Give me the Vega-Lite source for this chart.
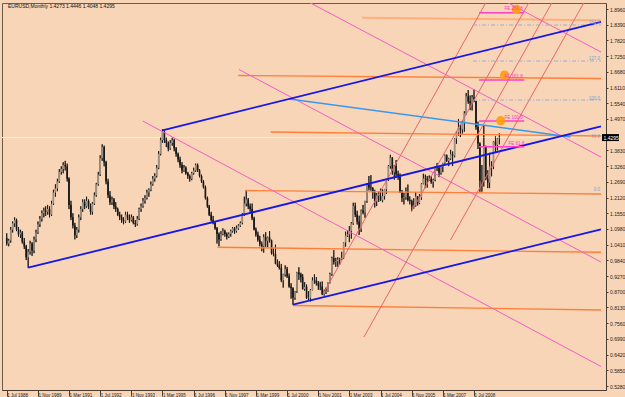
{
"$schema": "https://vega.github.io/schema/vega-lite/v6.json",
"width": 604, "height": 387, "autosize": "none",
"padding": {"left": 2, "top": 3, "right": 19, "bottom": 7},
"background": "#F8D5B6",
"config": {"view": {"stroke": "#6E5A48", "strokeWidth": 1, "fill": "#F8D5B6"}, "font": "Liberation Sans", "axis": {"title": null, "grid": false, "labelOverlap": false}},
"datasets": {
"bars": [
{"d":"1988-07-01","o":1.065,"h":1.082,"l":1.038,"c":1.045},
{"d":"1988-08-01","o":1.045,"h":1.062,"l":1.035,"c":1.056},
{"d":"1988-09-01","o":1.056,"h":1.105,"l":1.048,"c":1.095},
{"d":"1988-10-01","o":1.095,"h":1.125,"l":1.085,"c":1.118},
{"d":"1988-11-01","o":1.118,"h":1.140,"l":1.105,"c":1.130},
{"d":"1988-12-01","o":1.130,"h":1.135,"l":1.090,"c":1.096},
{"d":"1989-01-01","o":1.096,"h":1.105,"l":1.070,"c":1.078},
{"d":"1989-02-01","o":1.078,"h":1.095,"l":1.065,"c":1.085},
{"d":"1989-03-01","o":1.085,"h":1.090,"l":1.045,"c":1.052},
{"d":"1989-04-01","o":1.052,"h":1.065,"l":1.025,"c":1.035},
{"d":"1989-05-01","o":1.035,"h":1.040,"l":0.985,"c":0.995},
{"d":"1989-06-01","o":0.995,"h":1.025,"l":0.957,"c":1.015},
{"d":"1989-07-01","o":1.015,"h":1.055,"l":1.005,"c":1.045},
{"d":"1989-08-01","o":1.045,"h":1.050,"l":1.000,"c":1.020},
{"d":"1989-09-01","o":1.020,"h":1.070,"l":1.010,"c":1.060},
{"d":"1989-10-01","o":1.060,"h":1.095,"l":1.050,"c":1.085},
{"d":"1989-11-01","o":1.085,"h":1.125,"l":1.080,"c":1.115},
{"d":"1989-12-01","o":1.115,"h":1.145,"l":1.105,"c":1.135},
{"d":"1990-01-01","o":1.135,"h":1.165,"l":1.125,"c":1.155},
{"d":"1990-02-01","o":1.155,"h":1.175,"l":1.140,"c":1.165},
{"d":"1990-03-01","o":1.165,"h":1.180,"l":1.145,"c":1.160},
{"d":"1990-04-01","o":1.160,"h":1.185,"l":1.150,"c":1.170},
{"d":"1990-05-01","o":1.170,"h":1.180,"l":1.140,"c":1.150},
{"d":"1990-06-01","o":1.150,"h":1.200,"l":1.145,"c":1.190},
{"d":"1990-07-01","o":1.190,"h":1.240,"l":1.185,"c":1.230},
{"d":"1990-08-01","o":1.230,"h":1.260,"l":1.215,"c":1.245},
{"d":"1990-09-01","o":1.245,"h":1.280,"l":1.235,"c":1.270},
{"d":"1990-10-01","o":1.270,"h":1.315,"l":1.265,"c":1.305},
{"d":"1990-11-01","o":1.305,"h":1.325,"l":1.295,"c":1.315},
{"d":"1990-12-01","o":1.315,"h":1.340,"l":1.300,"c":1.330},
{"d":"1991-01-01","o":1.330,"h":1.345,"l":1.310,"c":1.325},
{"d":"1991-02-01","o":1.325,"h":1.335,"l":1.270,"c":1.280},
{"d":"1991-03-01","o":1.280,"h":1.285,"l":1.170,"c":1.185},
{"d":"1991-04-01","o":1.185,"h":1.200,"l":1.130,"c":1.140},
{"d":"1991-05-01","o":1.140,"h":1.155,"l":1.100,"c":1.110},
{"d":"1991-06-01","o":1.110,"h":1.120,"l":1.060,"c":1.075},
{"d":"1991-07-01","o":1.075,"h":1.105,"l":1.065,"c":1.095},
{"d":"1991-08-01","o":1.095,"h":1.150,"l":1.085,"c":1.140},
{"d":"1991-09-01","o":1.140,"h":1.180,"l":1.130,"c":1.170},
{"d":"1991-10-01","o":1.170,"h":1.205,"l":1.160,"c":1.195},
{"d":"1991-11-01","o":1.195,"h":1.205,"l":1.170,"c":1.180},
{"d":"1991-12-01","o":1.180,"h":1.215,"l":1.175,"c":1.200},
{"d":"1992-01-01","o":1.200,"h":1.205,"l":1.170,"c":1.180},
{"d":"1992-02-01","o":1.180,"h":1.190,"l":1.150,"c":1.160},
{"d":"1992-03-01","o":1.160,"h":1.195,"l":1.150,"c":1.190},
{"d":"1992-04-01","o":1.190,"h":1.230,"l":1.185,"c":1.220},
{"d":"1992-05-01","o":1.220,"h":1.265,"l":1.215,"c":1.260},
{"d":"1992-06-01","o":1.260,"h":1.305,"l":1.255,"c":1.295},
{"d":"1992-07-01","o":1.295,"h":1.365,"l":1.290,"c":1.355},
{"d":"1992-08-01","o":1.355,"h":1.405,"l":1.345,"c":1.395},
{"d":"1992-09-01","o":1.395,"h":1.400,"l":1.325,"c":1.340},
{"d":"1992-10-01","o":1.340,"h":1.345,"l":1.260,"c":1.270},
{"d":"1992-11-01","o":1.270,"h":1.280,"l":1.210,"c":1.220},
{"d":"1992-12-01","o":1.220,"h":1.235,"l":1.185,"c":1.195},
{"d":"1993-01-01","o":1.195,"h":1.215,"l":1.185,"c":1.205},
{"d":"1993-02-01","o":1.205,"h":1.210,"l":1.170,"c":1.180},
{"d":"1993-03-01","o":1.180,"h":1.195,"l":1.160,"c":1.170},
{"d":"1993-04-01","o":1.170,"h":1.175,"l":1.145,"c":1.150},
{"d":"1993-05-01","o":1.150,"h":1.160,"l":1.130,"c":1.140},
{"d":"1993-06-01","o":1.140,"h":1.150,"l":1.120,"c":1.130},
{"d":"1993-07-01","o":1.130,"h":1.140,"l":1.115,"c":1.125},
{"d":"1993-08-01","o":1.125,"h":1.160,"l":1.120,"c":1.150},
{"d":"1993-09-01","o":1.150,"h":1.160,"l":1.130,"c":1.140},
{"d":"1993-10-01","o":1.140,"h":1.150,"l":1.120,"c":1.130},
{"d":"1993-11-01","o":1.130,"h":1.150,"l":1.125,"c":1.140},
{"d":"1993-12-01","o":1.140,"h":1.145,"l":1.115,"c":1.120},
{"d":"1994-01-01","o":1.120,"h":1.130,"l":1.105,"c":1.115},
{"d":"1994-02-01","o":1.115,"h":1.145,"l":1.110,"c":1.135},
{"d":"1994-03-01","o":1.135,"h":1.175,"l":1.130,"c":1.170},
{"d":"1994-04-01","o":1.170,"h":1.190,"l":1.160,"c":1.180},
{"d":"1994-05-01","o":1.180,"h":1.210,"l":1.175,"c":1.200},
{"d":"1994-06-01","o":1.200,"h":1.220,"l":1.190,"c":1.210},
{"d":"1994-07-01","o":1.210,"h":1.240,"l":1.205,"c":1.230},
{"d":"1994-08-01","o":1.230,"h":1.245,"l":1.215,"c":1.240},
{"d":"1994-09-01","o":1.240,"h":1.270,"l":1.235,"c":1.260},
{"d":"1994-10-01","o":1.260,"h":1.290,"l":1.255,"c":1.280},
{"d":"1994-11-01","o":1.280,"h":1.300,"l":1.270,"c":1.290},
{"d":"1994-12-01","o":1.290,"h":1.330,"l":1.285,"c":1.320},
{"d":"1995-01-01","o":1.320,"h":1.380,"l":1.315,"c":1.370},
{"d":"1995-02-01","o":1.370,"h":1.430,"l":1.365,"c":1.420},
{"d":"1995-03-01","o":1.420,"h":1.460,"l":1.410,"c":1.450},
{"d":"1995-04-01","o":1.450,"h":1.455,"l":1.410,"c":1.420},
{"d":"1995-05-01","o":1.420,"h":1.430,"l":1.395,"c":1.410},
{"d":"1995-06-01","o":1.410,"h":1.415,"l":1.380,"c":1.390},
{"d":"1995-07-01","o":1.390,"h":1.420,"l":1.385,"c":1.410},
{"d":"1995-08-01","o":1.410,"h":1.430,"l":1.400,"c":1.420},
{"d":"1995-09-01","o":1.420,"h":1.425,"l":1.380,"c":1.390},
{"d":"1995-10-01","o":1.390,"h":1.395,"l":1.360,"c":1.370},
{"d":"1995-11-01","o":1.370,"h":1.375,"l":1.340,"c":1.350},
{"d":"1995-12-01","o":1.350,"h":1.360,"l":1.320,"c":1.330},
{"d":"1996-01-01","o":1.330,"h":1.340,"l":1.300,"c":1.310},
{"d":"1996-02-01","o":1.310,"h":1.330,"l":1.305,"c":1.320},
{"d":"1996-03-01","o":1.320,"h":1.325,"l":1.295,"c":1.300},
{"d":"1996-04-01","o":1.300,"h":1.305,"l":1.280,"c":1.290},
{"d":"1996-05-01","o":1.290,"h":1.295,"l":1.270,"c":1.280},
{"d":"1996-06-01","o":1.280,"h":1.305,"l":1.275,"c":1.300},
{"d":"1996-07-01","o":1.300,"h":1.320,"l":1.295,"c":1.310},
{"d":"1996-08-01","o":1.310,"h":1.335,"l":1.305,"c":1.330},
{"d":"1996-09-01","o":1.330,"h":1.335,"l":1.305,"c":1.310},
{"d":"1996-10-01","o":1.310,"h":1.315,"l":1.285,"c":1.290},
{"d":"1996-11-01","o":1.290,"h":1.295,"l":1.265,"c":1.270},
{"d":"1996-12-01","o":1.270,"h":1.275,"l":1.245,"c":1.250},
{"d":"1997-01-01","o":1.250,"h":1.255,"l":1.205,"c":1.210},
{"d":"1997-02-01","o":1.210,"h":1.215,"l":1.175,"c":1.180},
{"d":"1997-03-01","o":1.180,"h":1.185,"l":1.145,"c":1.150},
{"d":"1997-04-01","o":1.150,"h":1.160,"l":1.125,"c":1.130},
{"d":"1997-05-01","o":1.130,"h":1.145,"l":1.115,"c":1.120},
{"d":"1997-06-01","o":1.120,"h":1.125,"l":1.095,"c":1.100},
{"d":"1997-07-01","o":1.100,"h":1.105,"l":1.045,"c":1.080},
{"d":"1997-08-01","o":1.080,"h":1.085,"l":1.035,"c":1.060},
{"d":"1997-09-01","o":1.060,"h":1.090,"l":1.055,"c":1.080},
{"d":"1997-10-01","o":1.080,"h":1.100,"l":1.075,"c":1.090},
{"d":"1997-11-01","o":1.090,"h":1.095,"l":1.070,"c":1.080},
{"d":"1997-12-01","o":1.080,"h":1.085,"l":1.060,"c":1.070},
{"d":"1998-01-01","o":1.070,"h":1.085,"l":1.065,"c":1.080},
{"d":"1998-02-01","o":1.080,"h":1.095,"l":1.070,"c":1.090},
{"d":"1998-03-01","o":1.090,"h":1.105,"l":1.085,"c":1.100},
{"d":"1998-04-01","o":1.100,"h":1.105,"l":1.080,"c":1.090},
{"d":"1998-05-01","o":1.090,"h":1.110,"l":1.085,"c":1.100},
{"d":"1998-06-01","o":1.100,"h":1.115,"l":1.095,"c":1.110},
{"d":"1998-07-01","o":1.110,"h":1.125,"l":1.105,"c":1.120},
{"d":"1998-08-01","o":1.120,"h":1.155,"l":1.115,"c":1.150},
{"d":"1998-09-01","o":1.150,"h":1.215,"l":1.145,"c":1.190},
{"d":"1998-10-01","o":1.190,"h":1.235,"l":1.180,"c":1.205},
{"d":"1998-11-01","o":1.205,"h":1.210,"l":1.170,"c":1.180},
{"d":"1998-12-01","o":1.180,"h":1.190,"l":1.160,"c":1.170},
{"d":"1999-01-01","o":1.170,"h":1.190,"l":1.130,"c":1.137},
{"d":"1999-02-01","o":1.137,"h":1.142,"l":1.093,"c":1.096},
{"d":"1999-03-01","o":1.096,"h":1.103,"l":1.070,"c":1.078},
{"d":"1999-04-01","o":1.078,"h":1.088,"l":1.052,"c":1.059},
{"d":"1999-05-01","o":1.059,"h":1.073,"l":1.035,"c":1.043},
{"d":"1999-06-01","o":1.043,"h":1.052,"l":1.017,"c":1.035},
{"d":"1999-07-01","o":1.035,"h":1.078,"l":1.012,"c":1.068},
{"d":"1999-08-01","o":1.068,"h":1.086,"l":1.033,"c":1.055},
{"d":"1999-09-01","o":1.055,"h":1.070,"l":1.032,"c":1.067},
{"d":"1999-10-01","o":1.067,"h":1.090,"l":1.049,"c":1.056},
{"d":"1999-11-01","o":1.056,"h":1.059,"l":1.005,"c":1.010},
{"d":"1999-12-01","o":1.010,"h":1.028,"l":0.999,"c":1.007},
{"d":"2000-01-01","o":1.007,"h":1.041,"l":0.970,"c":0.972},
{"d":"2000-02-01","o":0.972,"h":0.987,"l":0.960,"c":0.965},
{"d":"2000-03-01","o":0.965,"h":0.981,"l":0.951,"c":0.956},
{"d":"2000-04-01","o":0.956,"h":0.971,"l":0.905,"c":0.912},
{"d":"2000-05-01","o":0.912,"h":0.935,"l":0.885,"c":0.933},
{"d":"2000-06-01","o":0.933,"h":0.966,"l":0.925,"c":0.953},
{"d":"2000-07-01","o":0.953,"h":0.960,"l":0.920,"c":0.926},
{"d":"2000-08-01","o":0.926,"h":0.936,"l":0.885,"c":0.889},
{"d":"2000-09-01","o":0.889,"h":0.901,"l":0.845,"c":0.883},
{"d":"2000-10-01","o":0.883,"h":0.886,"l":0.823,"c":0.848},
{"d":"2000-11-01","o":0.848,"h":0.873,"l":0.841,"c":0.872},
{"d":"2000-12-01","o":0.872,"h":0.942,"l":0.866,"c":0.940},
{"d":"2001-01-01","o":0.940,"h":0.959,"l":0.913,"c":0.933},
{"d":"2001-02-01","o":0.933,"h":0.939,"l":0.904,"c":0.923},
{"d":"2001-03-01","o":0.923,"h":0.934,"l":0.878,"c":0.880},
{"d":"2001-04-01","o":0.880,"h":0.905,"l":0.874,"c":0.888},
{"d":"2001-05-01","o":0.888,"h":0.896,"l":0.844,"c":0.847},
{"d":"2001-06-01","o":0.847,"h":0.872,"l":0.840,"c":0.848},
{"d":"2001-07-01","o":0.848,"h":0.880,"l":0.835,"c":0.876},
{"d":"2001-08-01","o":0.876,"h":0.922,"l":0.875,"c":0.911},
{"d":"2001-09-01","o":0.911,"h":0.933,"l":0.899,"c":0.911},
{"d":"2001-10-01","o":0.911,"h":0.923,"l":0.893,"c":0.901},
{"d":"2001-11-01","o":0.901,"h":0.909,"l":0.877,"c":0.891},
{"d":"2001-12-01","o":0.891,"h":0.906,"l":0.876,"c":0.890},
{"d":"2002-01-01","o":0.890,"h":0.907,"l":0.858,"c":0.861},
{"d":"2002-02-01","o":0.861,"h":0.878,"l":0.856,"c":0.869},
{"d":"2002-03-01","o":0.869,"h":0.885,"l":0.862,"c":0.872},
{"d":"2002-04-01","o":0.872,"h":0.904,"l":0.870,"c":0.901},
{"d":"2002-05-01","o":0.901,"h":0.939,"l":0.900,"c":0.934},
{"d":"2002-06-01","o":0.934,"h":0.997,"l":0.928,"c":0.992},
{"d":"2002-07-01","o":0.992,"h":1.021,"l":0.969,"c":0.978},
{"d":"2002-08-01","o":0.978,"h":0.993,"l":0.960,"c":0.981},
{"d":"2002-09-01","o":0.981,"h":0.995,"l":0.961,"c":0.987},
{"d":"2002-10-01","o":0.987,"h":0.993,"l":0.968,"c":0.988},
{"d":"2002-11-01","o":0.988,"h":1.015,"l":0.986,"c":0.993},
{"d":"2002-12-01","o":0.993,"h":1.050,"l":0.989,"c":1.049},
{"d":"2003-01-01","o":1.049,"h":1.088,"l":1.034,"c":1.074},
{"d":"2003-02-01","o":1.074,"h":1.094,"l":1.069,"c":1.078},
{"d":"2003-03-01","o":1.078,"h":1.108,"l":1.050,"c":1.091},
{"d":"2003-04-01","o":1.091,"h":1.123,"l":1.063,"c":1.118},
{"d":"2003-05-01","o":1.118,"h":1.193,"l":1.113,"c":1.181},
{"d":"2003-06-01","o":1.181,"h":1.193,"l":1.141,"c":1.150},
{"d":"2003-07-01","o":1.150,"h":1.164,"l":1.114,"c":1.125},
{"d":"2003-08-01","o":1.125,"h":1.146,"l":1.076,"c":1.099},
{"d":"2003-09-01","o":1.099,"h":1.168,"l":1.087,"c":1.165},
{"d":"2003-10-01","o":1.165,"h":1.185,"l":1.151,"c":1.158},
{"d":"2003-11-01","o":1.158,"h":1.200,"l":1.138,"c":1.199},
{"d":"2003-12-01","o":1.199,"h":1.264,"l":1.193,"c":1.259},
{"d":"2004-01-01","o":1.259,"h":1.290,"l":1.238,"c":1.248},
{"d":"2004-02-01","o":1.248,"h":1.293,"l":1.237,"c":1.247},
{"d":"2004-03-01","o":1.247,"h":1.249,"l":1.208,"c":1.230},
{"d":"2004-04-01","o":1.230,"h":1.240,"l":1.176,"c":1.198},
{"d":"2004-05-01","o":1.198,"h":1.228,"l":1.181,"c":1.220},
{"d":"2004-06-01","o":1.220,"h":1.233,"l":1.196,"c":1.217},
{"d":"2004-07-01","o":1.217,"h":1.244,"l":1.199,"c":1.202},
{"d":"2004-08-01","o":1.202,"h":1.241,"l":1.195,"c":1.217},
{"d":"2004-09-01","o":1.217,"h":1.243,"l":1.205,"c":1.242},
{"d":"2004-10-01","o":1.242,"h":1.280,"l":1.225,"c":1.276},
{"d":"2004-11-01","o":1.276,"h":1.329,"l":1.272,"c":1.326},
{"d":"2004-12-01","o":1.326,"h":1.367,"l":1.317,"c":1.356},
{"d":"2005-01-01","o":1.356,"h":1.359,"l":1.295,"c":1.304},
{"d":"2005-02-01","o":1.304,"h":1.330,"l":1.277,"c":1.326},
{"d":"2005-03-01","o":1.326,"h":1.348,"l":1.285,"c":1.296},
{"d":"2005-04-01","o":1.296,"h":1.309,"l":1.276,"c":1.287},
{"d":"2005-05-01","o":1.287,"h":1.299,"l":1.230,"c":1.230},
{"d":"2005-06-01","o":1.230,"h":1.239,"l":1.196,"c":1.210},
{"d":"2005-07-01","o":1.210,"h":1.229,"l":1.187,"c":1.213},
{"d":"2005-08-01","o":1.213,"h":1.248,"l":1.204,"c":1.234},
{"d":"2005-09-01","o":1.234,"h":1.259,"l":1.198,"c":1.203},
{"d":"2005-10-01","o":1.203,"h":1.216,"l":1.187,"c":1.199},
{"d":"2005-11-01","o":1.199,"h":1.204,"l":1.164,"c":1.179},
{"d":"2005-12-01","o":1.179,"h":1.209,"l":1.171,"c":1.184},
{"d":"2006-01-01","o":1.184,"h":1.232,"l":1.179,"c":1.216},
{"d":"2006-02-01","o":1.216,"h":1.216,"l":1.183,"c":1.192},
{"d":"2006-03-01","o":1.192,"h":1.224,"l":1.188,"c":1.212},
{"d":"2006-04-01","o":1.212,"h":1.264,"l":1.204,"c":1.262},
{"d":"2006-05-01","o":1.262,"h":1.298,"l":1.260,"c":1.281},
{"d":"2006-06-01","o":1.281,"h":1.295,"l":1.246,"c":1.280},
{"d":"2006-07-01","o":1.280,"h":1.290,"l":1.248,"c":1.276},
{"d":"2006-08-01","o":1.276,"h":1.292,"l":1.272,"c":1.281},
{"d":"2006-09-01","o":1.281,"h":1.290,"l":1.262,"c":1.268},
{"d":"2006-10-01","o":1.268,"h":1.280,"l":1.248,"c":1.276},
{"d":"2006-11-01","o":1.276,"h":1.325,"l":1.271,"c":1.325},
{"d":"2006-12-01","o":1.325,"h":1.337,"l":1.308,"c":1.320},
{"d":"2007-01-01","o":1.320,"h":1.327,"l":1.286,"c":1.302},
{"d":"2007-02-01","o":1.302,"h":1.324,"l":1.295,"c":1.323},
{"d":"2007-03-01","o":1.323,"h":1.338,"l":1.304,"c":1.336},
{"d":"2007-04-01","o":1.336,"h":1.368,"l":1.330,"c":1.365},
{"d":"2007-05-01","o":1.365,"h":1.368,"l":1.341,"c":1.345},
{"d":"2007-06-01","o":1.345,"h":1.356,"l":1.326,"c":1.353},
{"d":"2007-07-01","o":1.353,"h":1.385,"l":1.348,"c":1.369},
{"d":"2007-08-01","o":1.369,"h":1.379,"l":1.326,"c":1.364},
{"d":"2007-09-01","o":1.364,"h":1.428,"l":1.358,"c":1.426},
{"d":"2007-10-01","o":1.426,"h":1.453,"l":1.407,"c":1.448},
{"d":"2007-11-01","o":1.448,"h":1.497,"l":1.437,"c":1.464},
{"d":"2007-12-01","o":1.464,"h":1.475,"l":1.431,"c":1.459},
{"d":"2008-01-01","o":1.459,"h":1.490,"l":1.444,"c":1.485},
{"d":"2008-02-01","o":1.485,"h":1.525,"l":1.451,"c":1.518},
{"d":"2008-03-01","o":1.518,"h":1.591,"l":1.513,"c":1.579},
{"d":"2008-04-01","o":1.579,"h":1.602,"l":1.552,"c":1.560},
{"d":"2008-05-01","o":1.560,"h":1.582,"l":1.529,"c":1.555},
{"d":"2008-06-01","o":1.555,"h":1.584,"l":1.528,"c":1.575},
{"d":"2008-07-01","o":1.575,"h":1.604,"l":1.558,"c":1.561},
{"d":"2008-08-01","o":1.561,"h":1.563,"l":1.458,"c":1.468},
{"d":"2008-09-01","o":1.468,"h":1.487,"l":1.388,"c":1.408},
{"d":"2008-10-01","o":1.408,"h":1.412,"l":1.233,"c":1.273},
{"d":"2008-11-01","o":1.273,"h":1.330,"l":1.233,"c":1.270},
{"d":"2008-12-01","o":1.270,"h":1.472,"l":1.252,"c":1.397},
{"d":"2009-01-01","o":1.397,"h":1.400,"l":1.275,"c":1.280},
{"d":"2009-02-01","o":1.280,"h":1.311,"l":1.246,"c":1.266},
{"d":"2009-03-01","o":1.266,"h":1.374,"l":1.246,"c":1.325},
{"d":"2009-04-01","o":1.325,"h":1.343,"l":1.289,"c":1.324},
{"d":"2009-05-01","o":1.324,"h":1.417,"l":1.315,"c":1.415},
{"d":"2009-06-01","o":1.415,"h":1.434,"l":1.375,"c":1.403},
{"d":"2009-07-01","o":1.403,"h":1.428,"l":1.383,"c":1.426},
{"d":"2009-08-01","o":1.4273,"h":1.4446,"l":1.4048,"c":1.4295}
],
"lines": [
{"g":"B1","k":"blue","d":"1989-06-01","p":0.9573},{"g":"B1","k":"blue","d":"2013-12-07","p":1.4704},
{"g":"B2","k":"blue","d":"1995-03-01","p":1.456},{"g":"B2","k":"blue","d":"2013-12-07","p":1.8492},
{"g":"B3","k":"blue","d":"2000-10-01","p":0.823},{"g":"B3","k":"blue","d":"2013-12-07","p":1.0966},
{"g":"LB","k":"lightblue","d":"2000-08-04","p":1.5694},{"g":"LB","k":"lightblue","d":"2012-08-17","p":1.4315},
{"g":"O1","k":"peach","d":"2003-09-15","p":1.8644},{"g":"O1","k":"peach","d":"2013-12-07","p":1.855},
{"g":"O2","k":"orange","d":"1998-05-26","p":1.6547},{"g":"O2","k":"orange","d":"2013-12-07","p":1.6438},
{"g":"O3","k":"orange","d":"1999-10-16","p":1.4497},{"g":"O3","k":"orange","d":"2013-12-07","p":1.4352},
{"g":"O4","k":"orange","d":"1998-09-12","p":1.2374},{"g":"O4","k":"orange","d":"2013-12-07","p":1.2247},
{"g":"O5","k":"orange","d":"1997-07-08","p":1.0313},{"g":"O5","k":"orange","d":"2013-12-07","p":1.0131},
{"g":"O6","k":"orange","d":"2000-10-04","p":0.8201},{"g":"O6","k":"orange","d":"2013-12-07","p":0.8038},
{"g":"PA","k":"pink","d":"1994-04-26","p":1.4896},{"g":"PA","k":"pink","d":"2013-12-07","p":0.5988},
{"g":"PB","k":"pink","d":"1998-06-11","p":1.6764},{"g":"PB","k":"pink","d":"2013-12-07","p":0.978},
{"g":"PC","k":"pink","d":"2001-04-06","p":1.9286},{"g":"PC","k":"pink","d":"2013-12-07","p":1.359},
{"g":"PD","k":"pink","d":"2009-09-22","p":1.9286},{"g":"PD","k":"pink","d":"2013-12-07","p":1.7399},
{"g":"RA","k":"red","d":"2002-01-15","p":0.862},{"g":"RA","k":"red","d":"2009-01-25","p":1.9286},
{"g":"RB","k":"red","d":"2003-10-15","p":0.7058},{"g":"RB","k":"red","d":"2011-11-24","p":1.9286},
{"g":"RC","k":"red","d":"2007-06-29","p":1.0578},{"g":"RC","k":"red","d":"2013-04-07","p":1.9286},
{"g":"RD","k":"red","d":"2005-10-23","p":1.1594},{"g":"RD","k":"red","d":"2010-11-28","p":1.9286},
{"g":"F1","k":"fib","d":"2008-06-17","p":1.8379},{"g":"F1","k":"fib","d":"2013-12-07","p":1.8379},
{"g":"F2","k":"fib","d":"2008-06-17","p":1.7073},{"g":"F2","k":"fib","d":"2013-12-07","p":1.7073},
{"g":"F3","k":"fib","d":"2008-06-17","p":1.5658},{"g":"F3","k":"fib","d":"2013-12-07","p":1.5658},
{"g":"FE1","k":"fe","d":"2008-09-18","p":1.8826},{"g":"FE1","k":"fe","d":"2010-08-25","p":1.8826},
{"g":"FE2","k":"fe","d":"2008-09-18","p":1.6384},{"g":"FE2","k":"fe","d":"2010-08-25","p":1.6384},
{"g":"FE3","k":"fe","d":"2008-09-18","p":1.4896},{"g":"FE3","k":"fe","d":"2010-08-25","p":1.4896},
{"g":"FE4","k":"fe","d":"2008-09-18","p":1.3963},{"g":"FE4","k":"fe","d":"2010-08-25","p":1.3963}
],
"dots": [
{"d":"2010-04-24","p":1.8949},{"d":"2009-10-21","p":1.6565},{"d":"2009-08-22","p":1.4907}
],
"felabels": [
{"d":"2009-10-21","p":1.8949,"t":"FE 261.8"},{"d":"2009-10-21","p":1.6492,"t":"FE 161.8"},
{"d":"2009-10-21","p":1.4994,"t":"FE 100.0"},{"d":"2009-12-22","p":1.4061,"t":"FE 61.8"}
],
"fiblabels": [
{"d":"2013-11-22","p":1.846,"t":"161.8"},{"d":"2013-11-22","p":1.7135,"t":"127.0"},
{"d":"2013-11-22","p":1.5694,"t":"100.0"},{"d":"2013-11-22","p":1.4315,"t":"61.8"},
{"d":"2013-11-22","p":1.2392,"t":"0.0"}
],
"price": [{"d":"2013-12-07","p":1.4295,"t":"1.4295"}],
"title": [{"d":"1988-07-05","p":1.9178,"t":"EURUSD,Monthly 1.4273 1.4446 1.4048 1.4295"}]
},
"layer": [
{"data": {"name": "bars"}, "mark": {"type": "rule", "color": "#1A1A1A", "strokeWidth": 0.9},
 "encoding": {
  "x": {"field": "d", "type": "temporal",
   "scale": {"type": "utc", "nice": false, "domain": [{"year":1988,"month":7,"date":5,"utc":true},{"year":2013,"month":12,"date":7,"utc":true}]},
   "axis": {"title": null, "orient": "bottom", "grid": false, "format": "%-d %b %Y", "labelFontSize": 4.5, "labelColor": "#222222", "labelAlign": "left", "labelBaseline": "top", "labelDx": 1.5, "labelPadding": -4, "tickSize": 6, "tickColor": "#4A3C30", "domainColor": "#4A3C30", "labelOverlap": false, "labelFlush": false, "tickCount": 40,
    "values": [{"year":1988,"month":7,"date":1,"utc":true},{"year":1989,"month":11,"date":1,"utc":true},{"year":1991,"month":3,"date":1,"utc":true},{"year":1992,"month":7,"date":1,"utc":true},{"year":1993,"month":11,"date":1,"utc":true},{"year":1995,"month":3,"date":1,"utc":true},{"year":1996,"month":7,"date":1,"utc":true},{"year":1997,"month":11,"date":1,"utc":true},{"year":1999,"month":3,"date":1,"utc":true},{"year":2000,"month":7,"date":1,"utc":true},{"year":2001,"month":11,"date":1,"utc":true},{"year":2003,"month":3,"date":1,"utc":true},{"year":2004,"month":7,"date":1,"utc":true},{"year":2005,"month":11,"date":1,"utc":true},{"year":2007,"month":3,"date":1,"utc":true},{"year":2008,"month":7,"date":1,"utc":true}]}},
  "y": {"field": "l", "type": "quantitative",
   "scale": {"domain": [0.5135, 1.9178], "nice": false, "zero": false},
   "axis": {"title": null, "orient": "right", "grid": false, "labelFontSize": 5, "labelColor": "#222222", "labelPadding": 1.5, "tickSize": 2, "tickColor": "#4A3C30", "domainColor": "#4A3C30", "labelOverlap": false, "labelFlush": false, "tickCount": 40,
    "values": [0.528,0.585,0.642,0.699,0.756,0.813,0.87,0.927,0.984,1.041,1.098,1.155,1.212,1.269,1.326,1.383,1.44,1.497,1.554,1.611,1.668,1.725,1.782,1.839,1.896],
    "labelExpr": "abs(datum.value - 1.44) < 0.001 ? '' : format(datum.value, '.4f')"}},
  "y2": {"field": "h"}}},
{"data": {"name": "price"}, "mark": {"type": "rule", "color": "#FDEBDD", "strokeWidth": 1},
 "encoding": {"y": {"field": "p", "type": "quantitative"}}},
{"data": {"name": "bars"}, "mark": {"type": "rule", "color": "#1A1A1A", "strokeWidth": 0.9},
 "encoding": {"x": {"field": "d", "type": "temporal"}, "y": {"field": "l", "type": "quantitative"}, "y2": {"field": "h"}}},
{"data": {"name": "bars"}, "mark": {"type": "bar", "width": 1.6},
 "encoding": {
  "x": {"field": "d", "type": "temporal"},
  "y": {"field": "o", "type": "quantitative"},
  "y2": {"field": "c"},
  "color": {"condition": {"test": "datum.c >= datum.o", "value": "#9C8F80"}, "value": "#161616"}}},
{"data": {"name": "lines"}, "transform": [{"filter": "datum.k == 'orange'"}],
 "mark": {"type": "line", "color": "#FF7F3A", "strokeWidth": 1.4, "clip": true},
 "encoding": {"x": {"field": "d", "type": "temporal"}, "y": {"field": "p", "type": "quantitative"}, "detail": {"field": "g"}}},
{"data": {"name": "lines"}, "transform": [{"filter": "datum.k == 'peach'"}],
 "mark": {"type": "line", "color": "#FFB07A", "strokeWidth": 2, "clip": true},
 "encoding": {"x": {"field": "d", "type": "temporal"}, "y": {"field": "p", "type": "quantitative"}, "detail": {"field": "g"}}},
{"data": {"name": "lines"}, "transform": [{"filter": "datum.k == 'pink'"}],
 "mark": {"type": "line", "color": "#F55CC6", "strokeWidth": 1, "clip": true},
 "encoding": {"x": {"field": "d", "type": "temporal"}, "y": {"field": "p", "type": "quantitative"}, "detail": {"field": "g"}}},
{"data": {"name": "lines"}, "transform": [{"filter": "datum.k == 'red'"}],
 "mark": {"type": "line", "color": "#E8646E", "strokeWidth": 1, "clip": true},
 "encoding": {"x": {"field": "d", "type": "temporal"}, "y": {"field": "p", "type": "quantitative"}, "detail": {"field": "g"}}},
{"data": {"name": "lines"}, "transform": [{"filter": "datum.k == 'fib'"}],
 "mark": {"type": "line", "color": "#95AEDA", "strokeWidth": 1, "strokeDash": [4, 2, 1, 2], "clip": true},
 "encoding": {"x": {"field": "d", "type": "temporal"}, "y": {"field": "p", "type": "quantitative"}, "detail": {"field": "g"}}},
{"data": {"name": "lines"}, "transform": [{"filter": "datum.k == 'lightblue'"}],
 "mark": {"type": "line", "color": "#3A98EC", "strokeWidth": 1.5, "clip": true},
 "encoding": {"x": {"field": "d", "type": "temporal"}, "y": {"field": "p", "type": "quantitative"}, "detail": {"field": "g"}}},
{"data": {"name": "lines"}, "transform": [{"filter": "datum.k == 'blue'"}],
 "mark": {"type": "line", "color": "#1616E8", "strokeWidth": 1.8, "clip": true},
 "encoding": {"x": {"field": "d", "type": "temporal"}, "y": {"field": "p", "type": "quantitative"}, "detail": {"field": "g"}}},
{"data": {"name": "lines"}, "transform": [{"filter": "datum.k == 'fe'"}],
 "mark": {"type": "line", "color": "#FF3FC4", "strokeWidth": 1.5, "clip": true},
 "encoding": {"x": {"field": "d", "type": "temporal"}, "y": {"field": "p", "type": "quantitative"}, "detail": {"field": "g"}}},
{"data": {"name": "dots"}, "mark": {"type": "circle", "color": "#FFA010", "opacity": 0.95, "size": 85},
 "encoding": {"x": {"field": "d", "type": "temporal"}, "y": {"field": "p", "type": "quantitative"}}},
{"data": {"name": "felabels"}, "mark": {"type": "text", "color": "#FF33CC", "fontSize": 4.5, "align": "left", "baseline": "middle"},
 "encoding": {"x": {"field": "d", "type": "temporal"}, "y": {"field": "p", "type": "quantitative"}, "text": {"field": "t"}}},
{"data": {"name": "fiblabels"}, "mark": {"type": "text", "color": "#7E9ED6", "fontSize": 4.5, "align": "right", "baseline": "middle"},
 "encoding": {"x": {"field": "d", "type": "temporal"}, "y": {"field": "p", "type": "quantitative"}, "text": {"field": "t"}}},
{"data": {"name": "price"}, "mark": {"type": "rect", "color": "#000000", "xOffset": 1, "x2Offset": 18, "yOffset": -3.5, "y2Offset": 3.5, "clip": false},
 "encoding": {"x": {"field": "d", "type": "temporal"}, "x2": {"field": "d"}, "y": {"field": "p", "type": "quantitative"}, "y2": {"field": "p"}}},
{"data": {"name": "price"}, "mark": {"type": "text", "color": "#FFFFFF", "fontSize": 5, "align": "left", "baseline": "middle", "dx": 2.5},
 "encoding": {"x": {"field": "d", "type": "temporal"}, "y": {"field": "p", "type": "quantitative"}, "text": {"field": "t"}}},
{"data": {"name": "title"}, "mark": {"type": "text", "color": "#111111", "fontSize": 5, "align": "left", "baseline": "top", "dx": 1, "dy": 0.5},
 "encoding": {"x": {"field": "d", "type": "temporal"}, "y": {"field": "p", "type": "quantitative"}, "text": {"field": "t"}}}
]
}
